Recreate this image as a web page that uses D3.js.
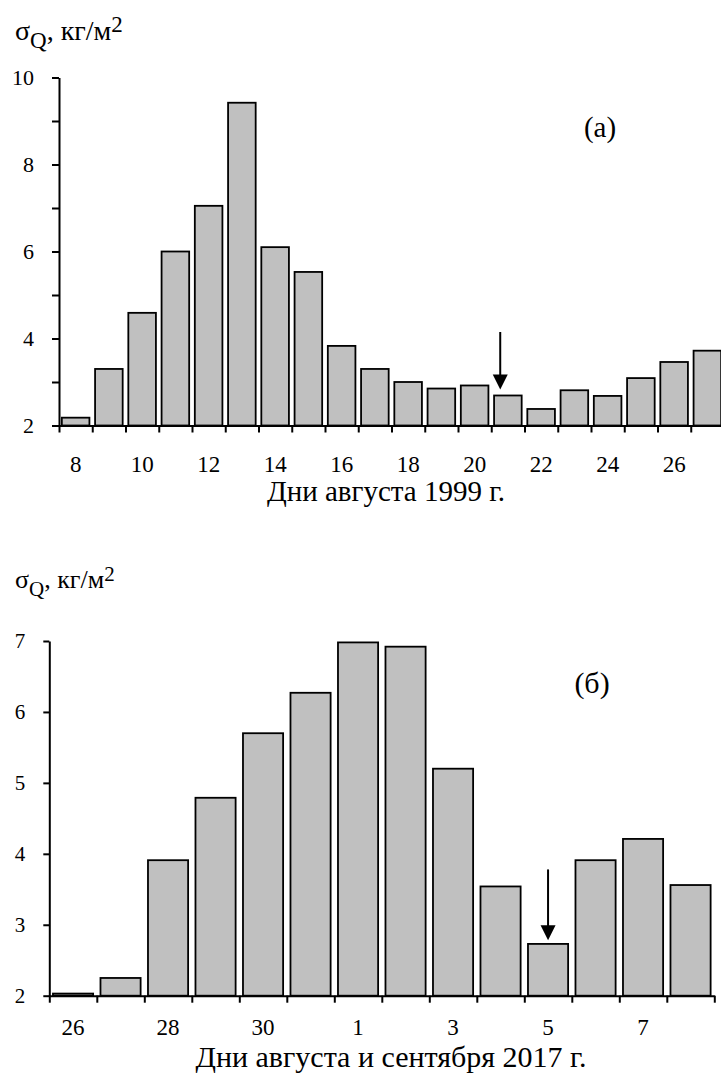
<!DOCTYPE html>
<html>
<head>
<meta charset="utf-8">
<script src="https://cdn.jsdelivr.net/npm/d3@7"></script>
<style>
  html, body { margin: 0; padding: 0; background: #fff; }
  svg { display: block; }
  text { font-family: "Liberation Serif", "Times New Roman", serif; fill: #000; }
</style>
</head>
<body>
<svg id="chart" width="721" height="1073"></svg>
<script>
// Panel (a): August 1999
const daysA = ["8","9","10","11","12","13","14","15","16","17","18","19","20","21","22","23","24","25","26","27"];
const sigmaA = [2.18, 3.30, 4.59, 6.00, 7.05, 9.42, 6.10, 5.53, 3.83, 3.30, 3.00, 2.85, 2.92, 2.69, 2.38, 2.81, 2.68, 3.09, 3.46, 3.72];
const labelsA = ["8","10","12","14","16","18","20","22","24","26"];
const yTicksA = [2, 3, 4, 5, 6, 7, 8, 9, 10];
const yLabelsA = [2, 4, 6, 8, 10];
// arrow marker: category, shift in band steps, start and end values
const arrowA = { day: "21", shift: -0.23, from: 4.15, to: 2.83 };

// Panel (б): August–September 2017
const daysB = ["26","27","28","29","30","31","1","2","3","4","5","6","7","8"];
const sigmaB = [2.03, 2.25, 3.91, 4.79, 5.70, 6.27, 6.98, 6.92, 5.20, 3.54, 2.73, 3.91, 4.21, 3.56];
const labelsB = ["26","28","30","1","3","5","7"];
const yTicksB = [2, 3, 4, 5, 6, 7];
const yLabelsB = [2, 3, 4, 5, 6, 7];
const arrowB = { day: "5", shift: 0, from: 3.78, to: 2.78 };

const svg = d3.select("#chart");

function panel(cfg) {
  const g = svg.append("g");
  const x = d3.scaleBand().domain(cfg.days).range([cfg.x0, cfg.x1])
    .paddingInner(cfg.pad).paddingOuter(cfg.pad / 2);
  const y = d3.scaleLinear().domain(cfg.yDomain).range([cfg.yBottom, cfg.yTop]);
  const idx = d3.scaleLinear().domain([0, cfg.days.length]).range([cfg.x0, cfg.x1]);

  // bars
  g.selectAll("rect.bar").data(cfg.values).join("rect")
    .attr("class", "bar")
    .attr("x", (d, i) => x(cfg.days[i]))
    .attr("width", x.bandwidth())
    .attr("y", d => y(d))
    .attr("height", d => y(cfg.yDomain[0]) - y(d))
    .attr("fill", "#c0c0c0")
    .attr("stroke", "#000")
    .attr("stroke-width", 1.8);

  // y axis
  const yAxis = d3.axisLeft(y).tickValues(cfg.yTicks)
    .tickFormat(d => cfg.yLabels.includes(d) ? String(d) : "")
    .tickSize(cfg.yTickSize).tickSizeOuter(0).tickPadding(cfg.yPad);
  const ga = g.append("g").attr("transform", `translate(${cfg.x0},0)`).call(yAxis);
  ga.selectAll("path, line").attr("stroke", "#000").attr("stroke-width", 2);
  ga.selectAll("text").style("font-size", cfg.yFont + "px")
    .style("font-family", "'Liberation Serif', 'Times New Roman', serif").attr("fill", "#000");

  // x axis: ticks on category boundaries
  const xAxis = d3.axisBottom(idx).tickValues(d3.range(cfg.days.length + 1))
    .tickFormat("").tickSize(7).tickSizeOuter(0);
  const gx = g.append("g").attr("transform", `translate(0,${cfg.yBottom})`).call(xAxis);
  gx.selectAll("path, line").attr("stroke", "#000").attr("stroke-width", 2);

  // x labels at band centres
  g.selectAll("text.xl").data(cfg.labels).join("text")
    .attr("class", "xl")
    .attr("x", d => x(d) + x.bandwidth() / 2)
    .attr("y", cfg.yBottom + cfg.xLabelDy)
    .attr("text-anchor", "middle")
    .style("font-size", cfg.xFont + "px")
    .text(d => d);

  // axis title
  g.append("text")
    .attr("x", cfg.titleX).attr("y", cfg.titleY)
    .attr("text-anchor", "middle")
    .style("font-size", cfg.titleFont + "px")
    .text(cfg.title);

  // unit label
  const f = cfg.unitFont, fs = cfg.unitSub;
  const u = g.append("text").attr("x", 15).attr("y", cfg.unitY)
    .style("font-size", f + "px");
  u.append("tspan").text("σ");
  u.append("tspan").text("Q").attr("dy", f * 0.3).style("font-size", fs + "px");
  u.append("tspan").text(", кг/м").attr("dy", -f * 0.3);
  u.append("tspan").text("2").attr("dy", -f * 0.27).style("font-size", fs + "px");

  // panel letter
  g.append("text").attr("x", cfg.letterX).attr("y", cfg.letterY)
    .attr("text-anchor", "middle")
    .style("font-size", cfg.letterFont + "px")
    .text(cfg.letter);

  // arrow
  const a = cfg.arrow;
  const ax = x(a.day) + x.bandwidth() / 2 + a.shift * x.step();
  const yTip = y(a.to), yTop = y(a.from);
  const head = 15;
  g.append("line").attr("x1", ax).attr("x2", ax)
    .attr("y1", yTop).attr("y2", yTip - head + 2)
    .attr("stroke", "#000").attr("stroke-width", 2);
  g.append("path")
    .attr("d", `M${ax - 7.5},${yTip - head} L${ax + 7.5},${yTip - head} L${ax},${yTip} Z`)
    .attr("fill", "#000");
}

panel({
  days: daysA, values: sigmaA, labels: labelsA,
  x0: 59, x1: 724, pad: 0.17,
  yDomain: [2, 10], yBottom: 425.5, yTop: 77.5,
  yTicks: yTicksA, yLabels: yLabelsA, yTickSize: 7, yPad: 18, yFont: 22,
  xLabelDy: 46, xFont: 23,
  title: "Дни августа 1999 г.", titleX: 386, titleY: 501, titleFont: 29,
  unitY: 40, unitFont: 28, unitSub: 23,
  letter: "(а)", letterX: 600, letterY: 137, letterFont: 29,
  arrow: arrowA
});

panel({
  days: daysB, values: sigmaB, labels: labelsB,
  x0: 49.3, x1: 714.3, pad: 0.155,
  yDomain: [2, 7], yBottom: 995.7, yTop: 641,
  yTicks: yTicksB, yLabels: yLabelsB, yTickSize: 6, yPad: 18, yFont: 21,
  xLabelDy: 39.5, xFont: 23,
  title: "Дни августа и сентября 2017 г.", titleX: 391, titleY: 1066.5, titleFont: 30,
  unitY: 588, unitFont: 26, unitSub: 21,
  letter: "(б)", letterX: 592, letterY: 693, letterFont: 30,
  arrow: arrowB
});
</script>
</body>
</html>
